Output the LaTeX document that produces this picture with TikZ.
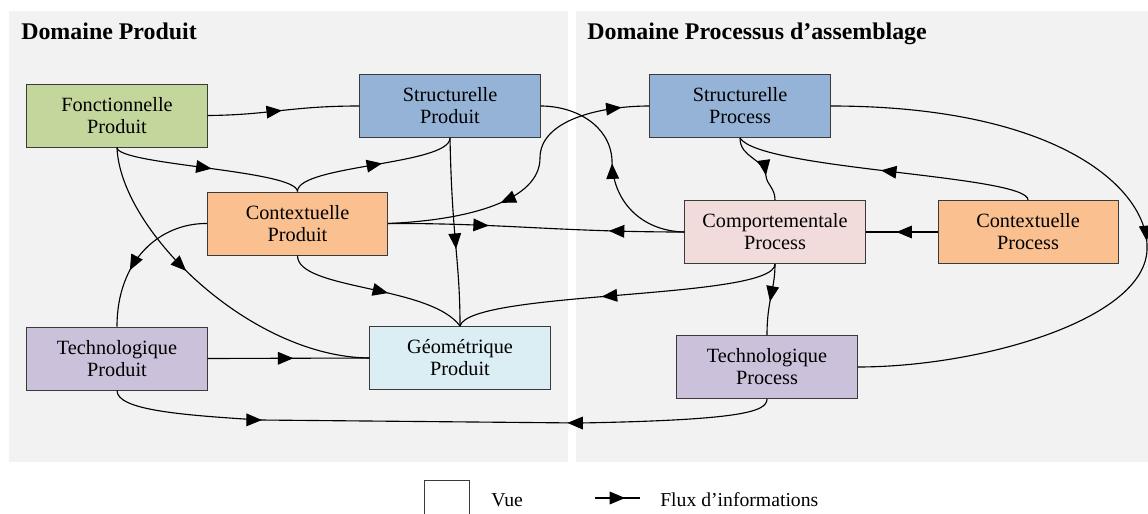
\documentclass[tikz,border=0pt]{standalone}
\usepackage{fontspec}
\setmainfont{Liberation Serif}
\usepackage{tikz}
\usetikzlibrary{
  arrows.meta,
  positioning,
  decorations.markings
}
\definecolor{dmFonc}{HTML}{C3D69B}
\definecolor{dmStruc}{HTML}{95B3D7}
\definecolor{dmCtx}{HTML}{FAC090}
\definecolor{dmTech}{HTML}{CCC1DA}
\definecolor{dmGeo}{HTML}{DBEEF4}
\definecolor{dmComp}{HTML}{F2DCDB}
\definecolor{dmFond}{HTML}{F2F2F2}
\definecolor{dmBord}{HTML}{3A3A3A}
\tikzset{
  vue/.style={
    draw=dmBord, line width=0.7pt, minimum width=4.5cm, minimum height=1.575cm,
    align=center, inner sep=0pt, font=\fontsize{14.4}{15.6}\selectfont
  },
  fonc/.style={vue, fill=dmFonc},
  struc/.style={vue, fill=dmStruc},
  ctx/.style={vue, fill=dmCtx},
  techno/.style={vue, fill=dmTech},
  geo/.style={vue, fill=dmGeo},
  comp/.style={vue, fill=dmComp},
  domaine/.style={fill=dmFond, draw=none},
  titre/.style={font=\fontsize{17}{20}\selectfont\bfseries, inner sep=0pt},
  legende/.style={font=\fontsize{14}{16}\selectfont, inner sep=0pt},
  flux/.style={line width=0.8pt, black},
  fl/.style={postaction={decorate, decoration={markings,
    mark=at position #1 with {\arrow{Triangle[length=11pt, width=9pt]}}}}},
  flr/.style={postaction={decorate, decoration={markings,
    mark=at position #1 with {\arrowreversed{Triangle[length=11pt, width=9pt]}}}}}
}

\begin{document}
\begin{tikzpicture}[x=0.025cm, y=-0.025cm]
  \useasboundingbox (0,0) rectangle (1148,513);
  \fill[white] (0,0) rectangle (1148,513);
  \fill[domaine] (9,11) rectangle (568,462);
  \fill[domaine] (576,11) rectangle (1148,462);
  \node[titre, anchor=base west] (titreP) at (21,39) {Domaine Produit};
  \node[titre, anchor=base west] (titreR) at (587,39) {Domaine Processus d’assemblage};

  \node[fonc] (fonc) at (117,115.5) {Fonctionnelle\\Produit};
  \node[struc] (strP) at (450,106) {Structurelle\\Produit};
  \node[ctx] (ctxP) at (297.5,223.5) {Contextuelle\\Produit};
  \node[techno] (techP) at (117,358.5) {Technologique\\Produit};
  \node[geo] (geoP) at (460,358) {Géométrique\\Produit};
  \node[struc] (strR) at (740,106) {Structurelle\\Process};
  \node[comp] (compR) at (775,232) {Comportementale\\Process};
  \node[ctx] (ctxR) at (1028,232) {Contextuelle\\Process};
  \node[techno] (techR) at (767,367) {Technologique\\Process};

  \draw[flux, fl=0.49] (fonc.east) .. controls (270,115) and (290,106) .. (strP.west);
  \draw[flux, fl=0.52] (fonc.south) .. controls (117,165) and (297,170) .. (ctxP.north);
  \draw[flux, fl=0.55] (ctxP.north) .. controls (297,165) and (450,165) .. (strP.south);
  \draw[flux, fl=0.59] (strP.south) .. controls (452,240) and (460,260) .. (geoP.north);
  \draw[flux, fl=0.34, flr=0.745] (ctxP.east) .. controls (500,223) and (560,232) .. (compR.west);
  \draw[flux, flr=0.37, fl=0.91] (ctxP.east) .. controls (470,220) and (540,200) .. (540,158)
    .. controls (540,120) and (600,106) .. (strR.west);
  \draw[flux, fl=0.52] (compR.west) .. controls (640,231) and (612,200) .. (612,160)
    .. controls (610,125) and (575,106) .. (strP.east);
  \draw[flux, fl=0.64] (strR.south) .. controls (740,158) and (764,158) .. (766,176)
    .. controls (767,185) and (775,188) .. (compR.north);
  \draw[flux, fl=0.51] (ctxR.north) .. controls (1028,175) and (760,170) .. (strR.south);
  \draw[flux, fl=0.57] (ctxR.west) -- (compR.east);
  \draw[flux, fl=0.52] (strR.east) .. controls (1060,106) and (1150,190) .. (1147,250)
    .. controls (1144,320) and (980,367) .. (techR.east);
  \draw[flux, fl=0.53] (compR.south) .. controls (775,290) and (767,300) .. (techR.north);
  \draw[flux, fl=0.55] (compR.south) .. controls (775,300) and (470,290) .. (geoP.north);
  \draw[flux, fl=0.56] (ctxP.south) .. controls (297,290) and (430,285) .. (geoP.north);
  \draw[flux, fl=0.53] (techP.east) -- (geoP.west);
  \draw[flux, fl=0.41] (fonc.south) .. controls (120,230) and (250,357) .. (geoP.west);
  \draw[flux, fl=0.62] (ctxP.west) .. controls (160,223) and (117,260) .. (techP.north);
  \draw[flux, fl=0.23, flr=0.69] (techP.south) .. controls (117,410) and (180,415) .. (260,420)
    -- (580,423) .. controls (740,420) and (767,412) .. (techR.south);

  \node[draw=dmBord, line width=0.7pt, fill=white, minimum size=1.125cm] (legvue) at (446.5,502.5) {};
  \node[legende, anchor=base west] (legvuetxt) at (491,506) {Vue};
  \coordinate (legA) at (595,498);
  \coordinate (legB) at (640,498);
  \draw[flux, fl=0.67] (legA) -- (legB);
  \node[legende, anchor=base west] (legflux) at (660,506) {Flux d’informations};
\end{tikzpicture}
\end{document}
